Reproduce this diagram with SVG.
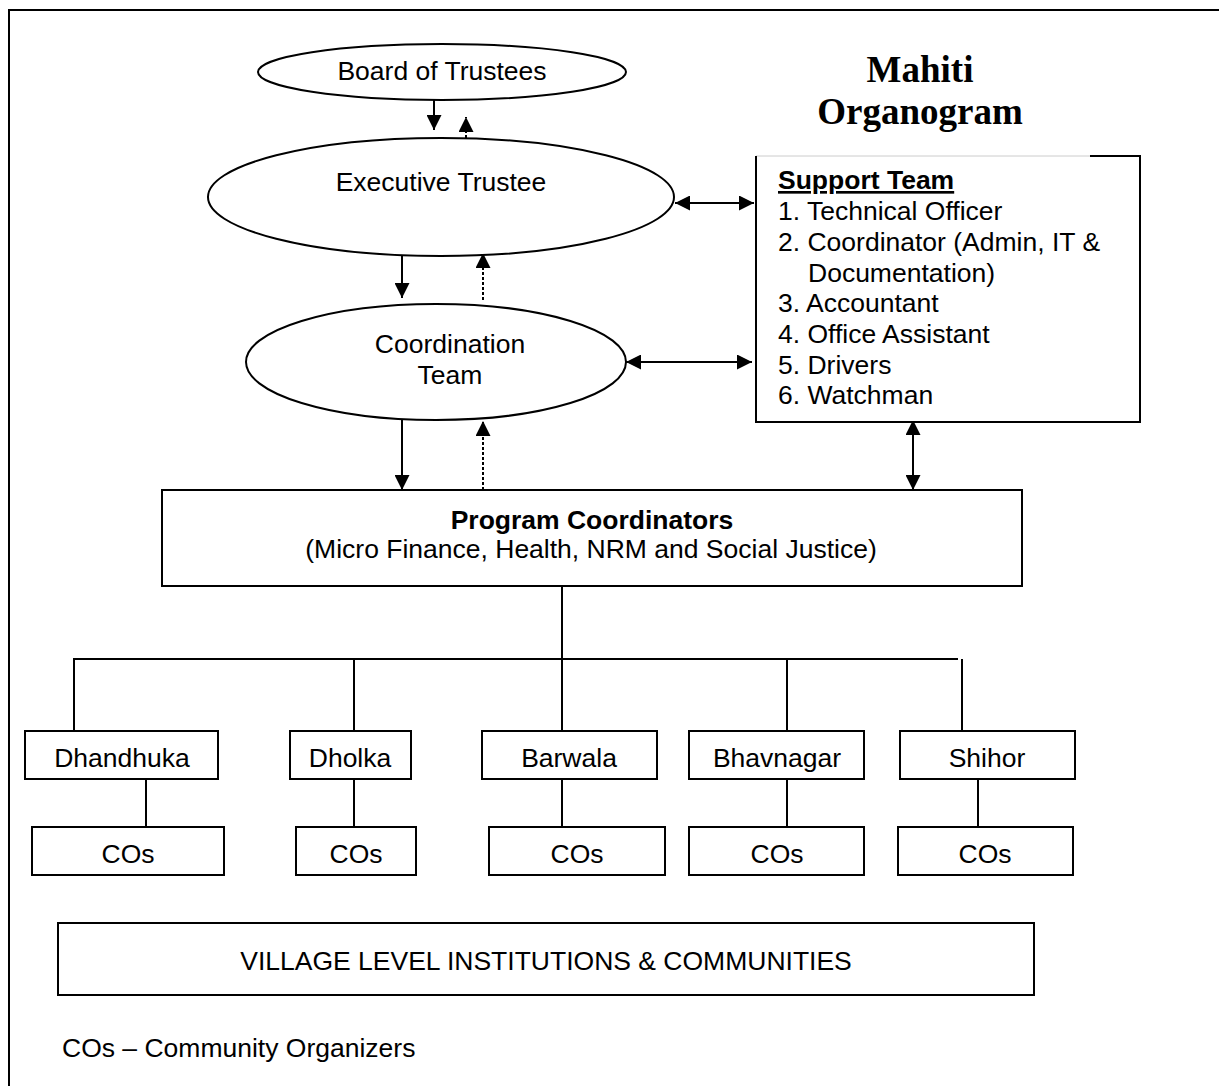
<svg xmlns="http://www.w3.org/2000/svg" width="1219" height="1086" viewBox="0 0 1219 1086">
<style>
text{font-family:"Liberation Sans",Arial,sans-serif;font-size:26.5px;fill:#000}
.c{text-anchor:middle}
.shape{fill:#fff;stroke:#000;stroke-width:2}
.ln{fill:none;stroke:#000;stroke-width:2}
.dot{fill:none;stroke:#000;stroke-width:2;stroke-dasharray:3 2}
.title{font-family:"Liberation Serif","Times New Roman",serif;font-weight:bold;font-size:37px}
</style>
<defs>
<marker id="ah" viewBox="0 0 10 10" refX="10" refY="5" markerWidth="15" markerHeight="15" markerUnits="userSpaceOnUse" orient="auto-start-reverse">
<path d="M0,0 L10,5 L0,10 z" fill="#000"/>
</marker>
</defs>
<rect width="1219" height="1086" fill="#fff"/>
<path d="M9,1086 V10 H1219" class="ln"/>

<g id="title">
<text class="title c" x="920" y="82">Mahiti</text>
<text class="title c" x="920" y="124">Organogram</text>
</g>

<g id="connectors">
<line x1="434" y1="96" x2="434" y2="130" class="ln" marker-end="url(#ah)"/>
<line x1="466" y1="138" x2="466" y2="117" class="dot" marker-end="url(#ah)"/>
<line x1="402" y1="252" x2="402" y2="298" class="ln" marker-end="url(#ah)"/>
<line x1="483" y1="300" x2="483" y2="253" class="dot" marker-end="url(#ah)"/>
<line x1="675" y1="203" x2="754" y2="203" class="ln" marker-start="url(#ah)" marker-end="url(#ah)"/>
<line x1="626" y1="362" x2="752" y2="362" class="ln" marker-start="url(#ah)" marker-end="url(#ah)"/>
<line x1="402" y1="420" x2="402" y2="490" class="ln" marker-end="url(#ah)"/>
<line x1="483" y1="490" x2="483" y2="421" class="dot" marker-end="url(#ah)"/>
<line x1="913" y1="420" x2="913" y2="490" class="ln" marker-start="url(#ah)" marker-end="url(#ah)"/>
<line x1="562" y1="586" x2="562" y2="731" class="ln"/>
<path d="M74,731 V659 H958 M962,659 V731" class="ln"/>
<line x1="354" y1="659" x2="354" y2="731" class="ln"/>
<line x1="787" y1="659" x2="787" y2="731" class="ln"/>
<line x1="146" y1="779" x2="146" y2="827" class="ln"/>
<line x1="354" y1="779" x2="354" y2="827" class="ln"/>
<line x1="562" y1="779" x2="562" y2="827" class="ln"/>
<line x1="787" y1="779" x2="787" y2="827" class="ln"/>
<line x1="978" y1="779" x2="978" y2="827" class="ln"/>
</g>

<g id="board">
<ellipse cx="442" cy="72" rx="184" ry="28" class="shape"/>
<text class="c" x="442" y="80">Board of Trustees</text>
</g>
<g id="executive">
<ellipse cx="441" cy="197" rx="233" ry="59" class="shape"/>
<text class="c" x="441" y="191">Executive Trustee</text>
</g>
<g id="coordination">
<ellipse cx="436" cy="362" rx="190" ry="58" class="shape"/>
<text class="c" x="450" y="353">Coordination</text>
<text class="c" x="450" y="384">Team</text>
</g>
<g id="support">
<rect x="756" y="156" width="384" height="266" fill="#fff"/>
<path d="M756,156 H1090" fill="none" stroke="#ccc" stroke-width="1"/>
<path d="M1090,156 H1140 V422 H756 V156" class="ln"/>
<text x="778" y="189" font-weight="bold" text-decoration="underline">Support Team</text>
<text x="778" y="220">1. Technical Officer</text>
<text x="778" y="251">2. Coordinator (Admin, IT &amp;</text>
<text x="808" y="282">Documentation)</text>
<text x="778" y="312">3. Accountant</text>
<text x="778" y="343">4. Office Assistant</text>
<text x="778" y="374">5. Drivers</text>
<text x="778" y="404">6. Watchman</text>
</g>
<g id="program">
<rect x="162" y="490" width="860" height="96" class="shape"/>
<text class="c" x="592" y="529" font-weight="bold" font-size="30">Program Coordinators</text>
<text class="c" x="591" y="558">(Micro Finance, Health, NRM and Social Justice)</text>
</g>
<g id="dhandhuka"><rect x="25" y="731" width="193" height="48" class="shape"/><text class="c" x="122" y="767">Dhandhuka</text></g>
<g id="dholka"><rect x="290" y="731" width="121" height="48" class="shape"/><text class="c" x="350" y="767">Dholka</text></g>
<g id="barwala"><rect x="482" y="731" width="175" height="48" class="shape"/><text class="c" x="569" y="767">Barwala</text></g>
<g id="bhavnagar"><rect x="689" y="731" width="175" height="48" class="shape"/><text class="c" x="777" y="767">Bhavnagar</text></g>
<g id="shihor"><rect x="900" y="731" width="175" height="48" class="shape"/><text class="c" x="987" y="767">Shihor</text></g>
<g id="cos1"><rect x="32" y="827" width="192" height="48" class="shape"/><text class="c" x="128" y="863">COs</text></g>
<g id="cos2"><rect x="296" y="827" width="120" height="48" class="shape"/><text class="c" x="356" y="863">COs</text></g>
<g id="cos3"><rect x="489" y="827" width="176" height="48" class="shape"/><text class="c" x="577" y="863">COs</text></g>
<g id="cos4"><rect x="689" y="827" width="175" height="48" class="shape"/><text class="c" x="777" y="863">COs</text></g>
<g id="cos5"><rect x="898" y="827" width="175" height="48" class="shape"/><text class="c" x="985" y="863">COs</text></g>
<g id="village">
<rect x="58" y="923" width="976" height="72" class="shape"/>
<text class="c" x="546" y="970" font-size="32">VILLAGE LEVEL INSTITUTIONS &amp; COMMUNITIES</text>
</g>
<g id="footer"><text x="62" y="1057" font-size="26">COs – Community Organizers</text></g>
</svg>
